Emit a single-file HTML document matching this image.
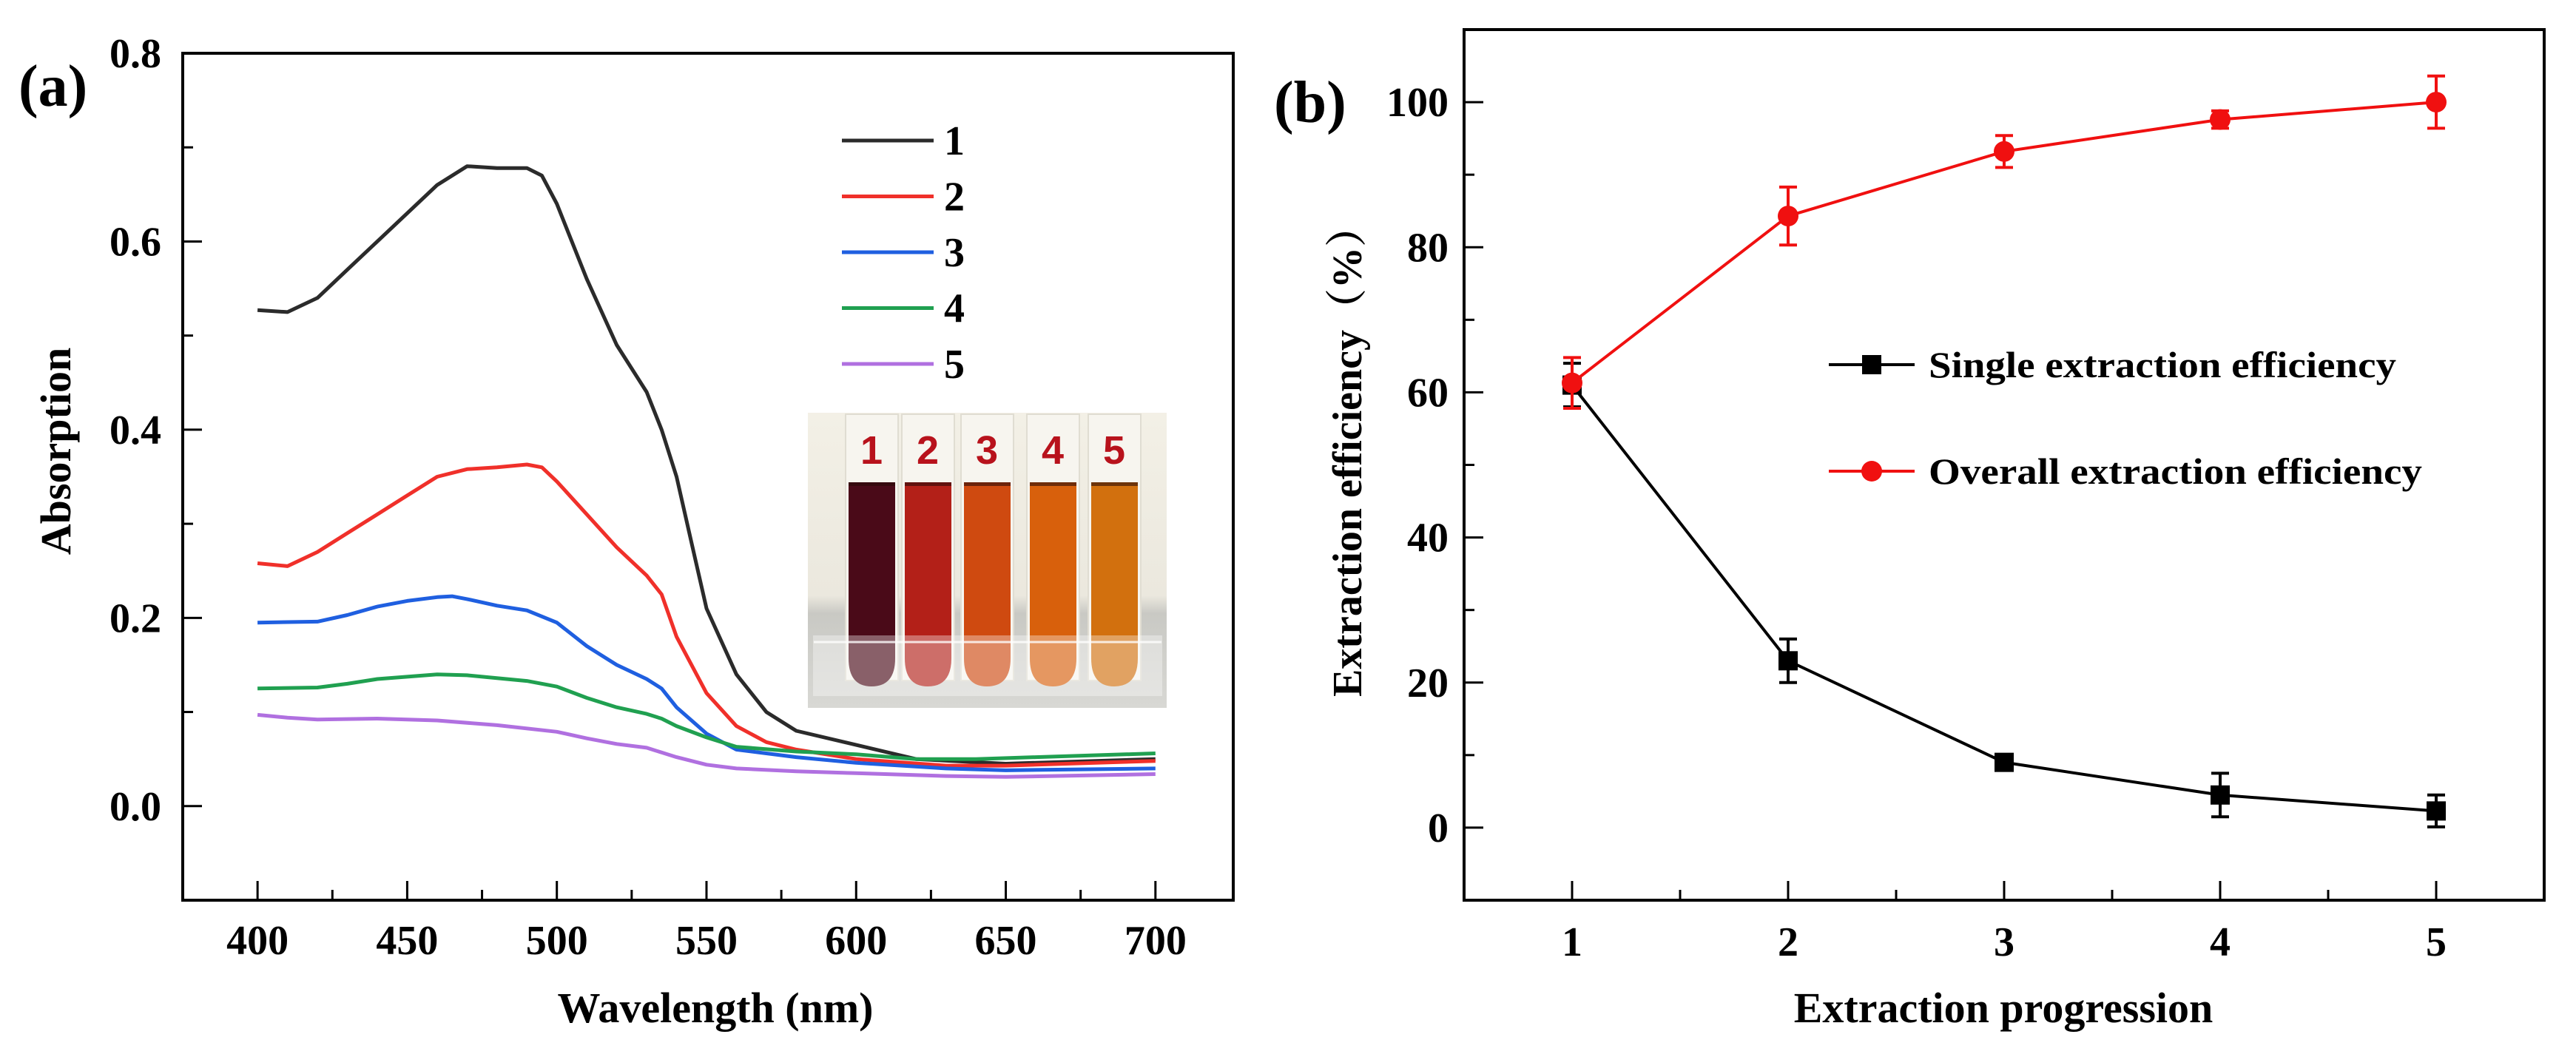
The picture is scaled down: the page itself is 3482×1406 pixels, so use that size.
<!DOCTYPE html>
<html><head><meta charset="utf-8">
<style>
html,body{margin:0;padding:0;background:#fff;}
svg{display:block;}
text{font-family:"Liberation Serif",serif;font-weight:bold;fill:#000;}
</style></head>
<body>
<svg id="fig" width="3482" height="1406" viewBox="0 0 3482 1406" xmlns="http://www.w3.org/2000/svg">
<defs>
<linearGradient id="bgInset" x1="0" y1="0" x2="0" y2="1">
<stop offset="0" stop-color="#f3f0e6"/><stop offset="0.62" stop-color="#ebe8de"/><stop offset="0.68" stop-color="#c9c9c4"/><stop offset="1" stop-color="#d8d8d4"/>
</linearGradient>
</defs>
<g id="panelA"></g>
<g id="panelB"></g>
</svg>
<script>
// ---------- Panel (a) data ----------
const wlA = [400,410,420,430,440,450,460,470,480,490,495,500,510,520,530,535,540,545,550,560,570,580,600,620,650,700];
const abs1 = [0.527,0.525,0.54,0.57,0.60,0.63,0.66,0.68,0.678,0.678,0.67,0.64,0.56,0.49,0.44,0.40,0.35,0.28,0.21,0.14,0.10,0.08,0.065,0.05,0.045,0.05];
const wlB = [400,410,420,430,440,450,460,470,480,490,495,500,510,520,530,535,540,550,560,570,580,600,630,650,700];
const abs2 = [0.258,0.255,0.27,0.29,0.31,0.33,0.35,0.358,0.36,0.363,0.36,0.345,0.31,0.275,0.245,0.225,0.18,0.12,0.085,0.068,0.06,0.05,0.043,0.043,0.048];
const wlC = [400,420,430,440,450,460,465,470,480,490,500,510,520,530,535,540,550,560,580,600,630,650,700];
const abs3 = [0.195,0.196,0.203,0.212,0.218,0.222,0.223,0.22,0.213,0.208,0.195,0.17,0.15,0.135,0.125,0.105,0.077,0.06,0.052,0.046,0.04,0.038,0.04];
const wlD = [400,420,430,440,460,470,490,500,510,520,530,535,540,550,560,580,600,620,640,660,700];
const abs4 = [0.125,0.126,0.13,0.135,0.14,0.139,0.133,0.127,0.115,0.105,0.098,0.093,0.085,0.073,0.063,0.058,0.055,0.05,0.05,0.052,0.056];
const wlE = [400,410,420,440,460,480,500,510,520,530,535,540,550,560,580,600,630,650,700];
const abs5 = [0.097,0.094,0.092,0.093,0.091,0.086,0.079,0.072,0.066,0.062,0.057,0.052,0.044,0.04,0.037,0.035,0.032,0.031,0.034];
const seriesLabelsA = ["1","2","3","4","5"];
const xTicksA = [400,450,500,550,600,650,700];
const yTicksA = [0.0,0.2,0.4,0.6,0.8];

// ---------- Panel (b) data ----------
const steps = [1,2,3,4,5];
const singleEff = [61,23,9,4.5,2.3];
const singleErr = [3,3,1,3,2.2];
const overallEff = [61.3,84.3,93.2,97.6,100];
const overallErr = [3.5,4,2.2,1.2,3.6];
const xTicksB = [1,2,3,4,5];
const yTicksB = [0,20,40,60,80,100];

const NS = "http://www.w3.org/2000/svg";
function mk(parent, tag, attrs, txt){
  const e = document.createElementNS(NS, tag);
  for (const k in attrs) e.setAttribute(k, attrs[k]);
  if (txt !== undefined) e.textContent = txt;
  parent.appendChild(e);
  return e;
}

// ===== Panel A =====
const A = document.getElementById('panelA');
const aL=247,aR=1667,aT=72,aB=1217;
const xA = v => aL + (v-375)/(726-375)*(aR-aL);
const yA = v => aB - (v+0.1)/(0.9)*(aB-aT);

// inset photo
const inset = mk(A,'g',{});


mk(inset,'rect',{x:1092,y:558,width:485,height:399,fill:'url(#bgInset)'});
const tubeX=[1147,1223,1303,1392,1475];
const tubeCol=['#4a0a18','#b32018','#cf4a10','#d8600c','#d2700e'];
tubeX.forEach((tx,i)=>{
  const t = mk(inset,'g',{});
  
  
  mk(t,'rect',{x:tx-4,y:560,width:71,height:360,fill:'#f7f5ef',stroke:'#e0ddd2','stroke-width':2});
  mk(t,'path',{d:`M${tx} 652 H${tx+63} V890 Q${tx+63} 928 ${tx+31} 928 Q${tx} 928 ${tx} 890 Z`,fill:tubeCol[i]});
  mk(t,'rect',{x:tx,y:652,width:63,height:5,fill:'#2a0a08',opacity:0.6});
  const n = mk(t,'text',{x:tx+31,y:627,'text-anchor':'middle','font-size':54,style:'font-family:"Liberation Sans",sans-serif;fill:#b8121c'},String(i+1));
  
  
});
mk(inset,'rect',{x:1100,y:860,width:470,height:80,fill:'#ffffff',opacity:0.35,stroke:'#ffffff','stroke-width':2});
mk(inset,'line',{x1:1100,y1:868,x2:1570,y2:868,stroke:'#ffffff','stroke-width':3,opacity:0.8});

// curves
const colsA=['#2b2b2b','#f0302a','#1f5fe0','#20a050','#b070e0'];
const xsA=[wlA,wlB,wlC,wlD,wlE], ysA=[abs1,abs2,abs3,abs4,abs5];
for(let s=0;s<5;s++){
  let d='';
  xsA[s].forEach((w,i)=>{ d += (i?'L':'M')+xA(w).toFixed(1)+' '+yA(ysA[s][i]).toFixed(1); });
  const p = mk(A,'path',{d:d,fill:'none',stroke:colsA[s],'stroke-width':5,'stroke-linejoin':'round'});
  
  
}
// legend
const legA = mk(A,'g',{});


seriesLabelsA.forEach((lab,i)=>{
  const y = 190 + i*75.5;
  const e = mk(legA,'g',{});
  
  
  mk(e,'line',{x1:1138,y1:y,x2:1262,y2:y,stroke:colsA[i],'stroke-width':5});
  mk(e,'text',{x:1276,y:y+19,'font-size':56},lab);
});
// frame
const fa = mk(A,'rect',{x:aL,y:aT,width:aR-aL,height:aB-aT,fill:'none',stroke:'#000','stroke-width':4});


// ticks
for(let v=400; v<=700; v+=25){
  const len = (v%50===0)?26:14;
  mk(A,'line',{x1:xA(v),y1:aB,x2:xA(v),y2:aB-len,stroke:'#000','stroke-width':3});
}
xTicksA.forEach(v=>{
  const t = mk(A,'text',{x:xA(v),y:1290,'text-anchor':'middle','font-size':56},String(v));
  
  
});
for(let v=-0.1; v<=0.81; v+=0.1){
  const major = Math.abs(Math.round(v*10)%2)===0;
  mk(A,'line',{x1:aL,y1:yA(v),x2:aL+(major?26:14),y2:yA(v),stroke:'#000','stroke-width':3});
}
yTicksA.forEach(v=>{
  const t = mk(A,'text',{x:218,y:yA(v)+19,'text-anchor':'end','font-size':56},v.toFixed(1));
  
  
});
let t;
t = mk(A,'text',{x:967,y:1382,'text-anchor':'middle','font-size':58},'Wavelength (nm)');
 
t = mk(A,'text',{x:0,y:0,'text-anchor':'middle','font-size':58,transform:'translate(95,610) rotate(-90)'},'Absorption');
 
t = mk(A,'text',{x:25,y:143,'font-size':80},'(a)');
 

// ===== Panel B =====
const B = document.getElementById('panelB');
const bL=1979,bR=3439,bT=40,bB=1217;
const xB = v => bL + (v-0.5)/5*(bR-bL);
const yB = v => bB - (v+10)/120*(bB-bT);

const fb = mk(B,'rect',{x:bL,y:bT,width:bR-bL,height:bB-bT,fill:'none',stroke:'#000','stroke-width':4});


for(let v=1; v<=5.01; v+=0.5){
  const major = Number.isInteger(v);
  mk(B,'line',{x1:xB(v),y1:bB,x2:xB(v),y2:bB-(major?26:14),stroke:'#000','stroke-width':3});
}
xTicksB.forEach(v=>{
  const l = mk(B,'text',{x:xB(v),y:1292,'text-anchor':'middle','font-size':56},String(v));
  
  
});
for(let v=-10; v<=110; v+=10){
  const major = (v%20===0);
  mk(B,'line',{x1:bL,y1:yB(v),x2:bL+(major?26:14),y2:yB(v),stroke:'#000','stroke-width':3});
}
yTicksB.forEach(v=>{
  const l = mk(B,'text',{x:1958,y:yB(v)+19,'text-anchor':'end','font-size':56},String(v));
  
  
});

function series(vals, errs, color, marker, name){
  const g = mk(B,'g',{});
  
  
  let d='';
  steps.forEach((s,i)=>{ d += (i?'L':'M')+xB(s)+' '+yB(vals[i]); });
  mk(g,'path',{d:d,fill:'none',stroke:color,'stroke-width':4});
  steps.forEach((s,i)=>{
    const x=xB(s), y1=yB(vals[i]+errs[i]), y2=yB(vals[i]-errs[i]);
    mk(g,'line',{x1:x,y1:y1,x2:x,y2:y2,stroke:color,'stroke-width':4});
    mk(g,'line',{x1:x-12,y1:y1,x2:x+12,y2:y1,stroke:color,'stroke-width':4});
    mk(g,'line',{x1:x-12,y1:y2,x2:x+12,y2:y2,stroke:color,'stroke-width':4});
    let m;
    if(marker==='sq') m = mk(g,'rect',{x:x-13,y:yB(vals[i])-13,width:26,height:26,fill:color});
    else m = mk(g,'circle',{cx:x,cy:yB(vals[i]),r:14,fill:color});
    
    
  });
}
series(singleEff, singleErr, '#000', 'sq', 'single-series');
series(overallEff, overallErr, '#f01010', 'circ', 'overall-series');

const legB = mk(B,'g',{});


const e1 = mk(legB,'g',{});


mk(e1,'line',{x1:2472,y1:493,x2:2588,y2:493,stroke:'#000','stroke-width':4});
mk(e1,'rect',{x:2517,y:480,width:26,height:26,fill:'#000'});
mk(e1,'text',{x:2607,y:510,'font-size':50,textLength:632,lengthAdjust:'spacingAndGlyphs'},'Single extraction efficiency');
const e2 = mk(legB,'g',{});


mk(e2,'line',{x1:2472,y1:637,x2:2588,y2:637,stroke:'#f01010','stroke-width':4});
mk(e2,'circle',{cx:2530,cy:637,r:14,fill:'#f01010'});
mk(e2,'text',{x:2607,y:654,'font-size':50,textLength:667,lengthAdjust:'spacingAndGlyphs'},'Overall extraction efficiency');

t = mk(B,'text',{x:2708,y:1382,'text-anchor':'middle','font-size':58},'Extraction progression');
 
t = mk(B,'text',{x:0,y:0,'text-anchor':'middle','font-size':56,transform:'translate(1840,610) rotate(-90)',style:'font-family:"Liberation Serif","Noto Serif CJK SC",serif'},'Extraction efficiency（%）');
 
t = mk(B,'text',{x:1722,y:165,'font-size':80},'(b)');
 
</script>
</body></html>
